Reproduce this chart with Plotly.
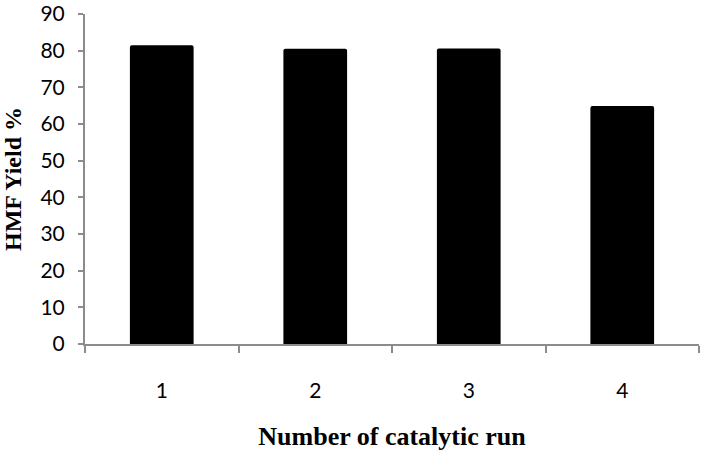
import plotly.graph_objects as go

runs = ["1", "2", "3", "4"]
hmf_yield = [81.5, 80.5, 80.6, 64.9]

fig = go.Figure(go.Bar(
    x=runs,
    y=hmf_yield,
    marker=dict(color="black", line=dict(width=0), cornerradius=2),
    width=0.415,
))

fig.update_layout(
    width=705, height=463,
    margin=dict(l=85, r=6, t=14, b=119),
    plot_bgcolor="white", paper_bgcolor="white",
    showlegend=False,
)

tick_font = dict(family="Lato, Open Sans, sans-serif", size=21, color="black")
title_font = dict(family="Liberation Serif, Times New Roman, serif", color="black")

fig.update_xaxes(
    type="category",
    tickson="boundaries",
    ticks="outside", ticklen=7, tickcolor="#8c8c8c", tickwidth=2,
    showline=True, linecolor="#8c8c8c", linewidth=2,
    showgrid=False,
    tickfont=tick_font,
    ticklabelstandoff=27,
    ticklabeloverflow="allow",
    automargin=False,
    title=dict(text="<b>Number of catalytic run</b>",
               font=dict(size=26, **title_font),
               standoff=26),
)

fig.update_yaxes(
    range=[0, 90], dtick=10,
    ticks="outside", ticklen=5, tickcolor="#8c8c8c", tickwidth=2,
    showline=True, linecolor="#8c8c8c", linewidth=2,
    showgrid=False, zeroline=False,
    tickfont=tick_font,
    ticklabelstandoff=9,
    ticklabeloverflow="allow",
    automargin=False,
    title=dict(text="<b>HMF Yield %</b>",
               font=dict(size=24, **title_font),
               standoff=22),
)

# drop the browser's default body margin so the figure fills the window
fig.write_html("out.html", config={"displayModeBar": False},
               post_script="document.body.style.margin='0';")
